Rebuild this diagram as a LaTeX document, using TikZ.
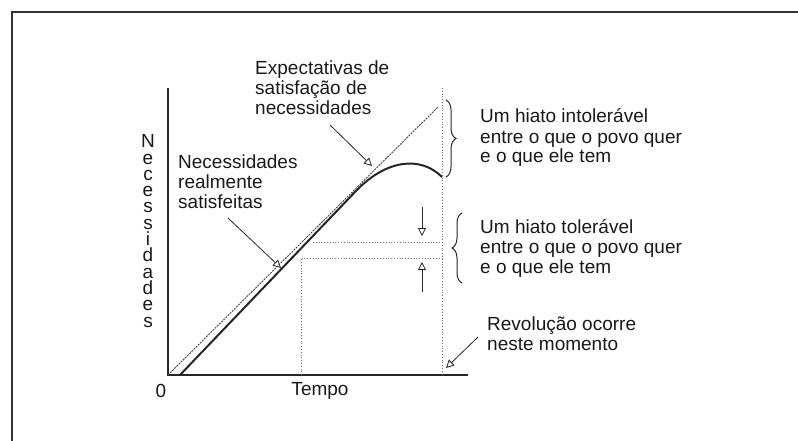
\documentclass[tikz,border=0pt]{standalone}
\usepackage{fontspec}
\setmainfont{Liberation Sans}
\usetikzlibrary{arrows.meta,decorations.pathreplacing}
\begin{document}
\begin{tikzpicture}[
	x = 1pt, y = -1pt,
	every node/.style = {inner sep = 0pt, font = \fontsize{19}{20}\selectfont, text = black!90},
	note/.style = {anchor = base west, align = left},
	pointer/.style = {draw = black!85, line width = 0.8pt, -{Triangle[open, length = 8pt, width = 8pt]}},
	guide/.style = {draw = black!55, line width = 0.8pt, dotted},
	gap/.style = {draw = black!85, line width = 1pt, decorate, decoration = {brace, amplitude = 10pt}}
	]
	\useasboundingbox (0,0) rectangle (798,441);

	% frame
	\draw[line width = 1.6pt, black!80] (12,441) -- (12,12) -- (798,12);

	% axes
	\coordinate (O) at (168,375);
	\coordinate (ytop) at (168,88);
	\coordinate (xend) at (468,375);
	\draw[line width = 1.4pt, black!85] (ytop) -- (O) -- (xend);
	\node (zero) at (161,391) {0};
	\node (tempo) at (320,391) {Tempo};
	\node[anchor = base, align = center, font = \fontsize{19}{16.3}\selectfont] (ylab) at (148,327)
		{N\\e\\c\\e\\s\\s\\i\\d\\a\\d\\e\\s};

	% expected and satisfied needs
	\coordinate (E1) at (438,107);
	\draw[black!75, line width = 0.9pt, dash pattern = on 2pt off 1pt] (O) -- (E1);
	\coordinate (S0) at (180,375);
	\draw[line width = 2pt, black!85] (S0) -- (355,192) .. controls (385,160) and (420,155) .. (442,177);

	% guides
	\draw[guide] (442,88) -- (442,375);
	\draw[guide] (301,375) -- (301,258) -- (442,258);
	\draw[guide] (313,242) -- (442,242);

	% gap arrows
	\coordinate (dn0) at (422,207);
	\coordinate (dn1) at (422,236);
	\coordinate (up0) at (422,292);
	\coordinate (up1) at (422,262);
	\draw[pointer] (dn0) -- (dn1);
	\draw[pointer] (up0) -- (up1);

	% braces
	\draw[gap] (446,100) -- (446,177);
	\draw[gap] (462,283) -- (462,213);

	% texts
	\node[note] (expect) at (255,115) {Expectativas de\\satisfação de\\necessidades};
	\node[note] (real) at (178,208) {Necessidades\\realmente\\satisfeitas};
	\node[note] (intol) at (480,163) {Um hiato intolerável\\entre o que o povo quer\\e o que ele tem};
	\node[note] (tol) at (480,273) {Um hiato tolerável\\entre o que o povo quer\\e o que ele tem};
	\node[note] (revol) at (487,350) {Revolução ocorre\\neste momento};

	% pointers
	\coordinate (p1) at (330,125);
	\coordinate (q1) at (372,166);
	\coordinate (p2) at (228,218);
	\coordinate (q2) at (281,268);
	\coordinate (p3) at (478,337);
	\coordinate (q3) at (446,368);
	\draw[pointer] (p1) -- (q1);
	\draw[pointer] (p2) -- (q2);
	\draw[pointer] (p3) -- (q3);
\end{tikzpicture}
\end{document}
